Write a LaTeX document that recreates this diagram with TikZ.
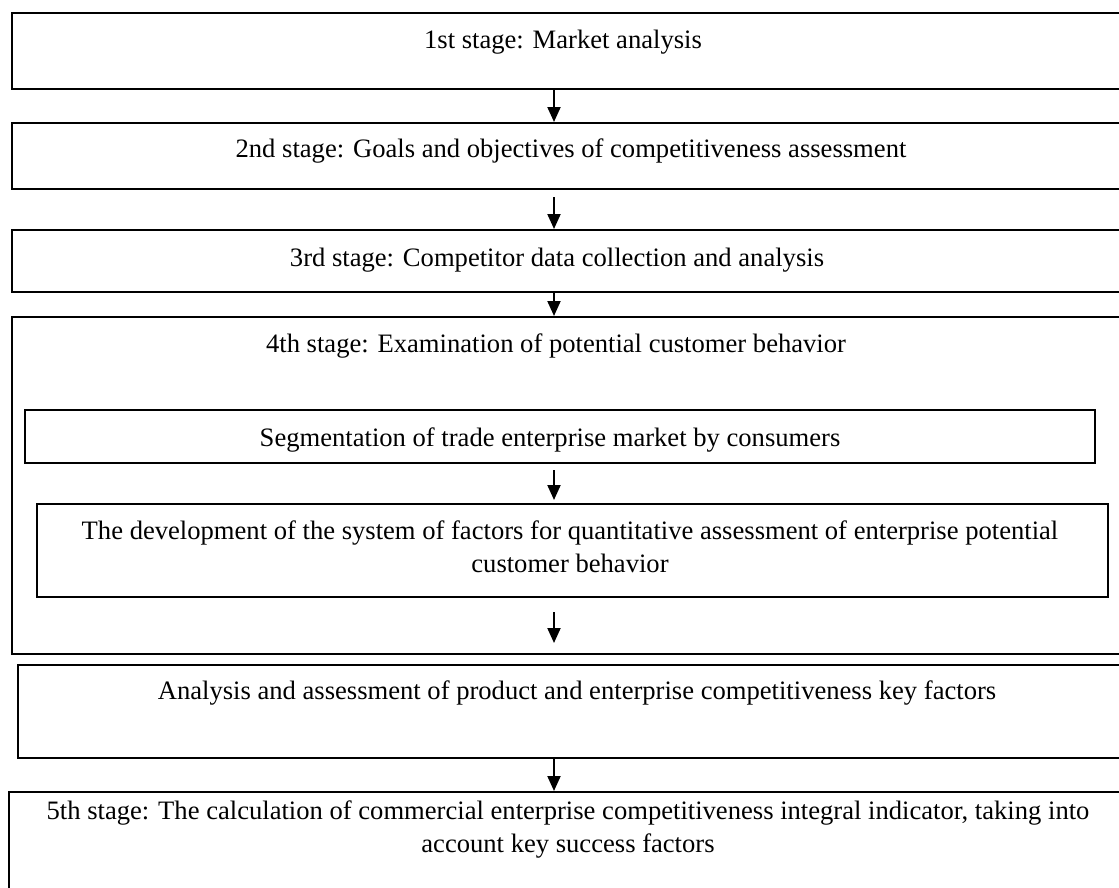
\documentclass[tikz,border=0pt]{standalone}
\usepackage{fontspec}
\setmainfont{Liberation Serif}
\usetikzlibrary{arrows.meta}
\begin{document}
\begin{tikzpicture}[x=1pt,y=-1pt,
  box/.style={draw=black,line width=2pt,rectangle,anchor=north west,inner sep=0pt},
  lbl/.style={anchor=base,inner sep=0pt,align=center,font=\fontsize{26.6}{33}\selectfont},
  arr/.style={line width=2pt,-{Triangle[width=13pt,length=15pt]}}]
\useasboundingbox (0,0) rectangle (1119,887);
% boxes
\node[box,minimum width=1120pt,minimum height=76pt] (b1) at (11,12) {};
\node[box,minimum width=1120pt,minimum height=66pt] (b2) at (11,122) {};
\node[box,minimum width=1120pt,minimum height=62pt] (b3) at (11,229) {};
\node[box,minimum width=1120pt,minimum height=337pt] (b4) at (11,316) {};
\node[box,minimum width=1070pt,minimum height=53pt] (seg) at (24,409) {};
\node[box,minimum width=1071pt,minimum height=93pt] (dev) at (36,503) {};
\node[box,minimum width=1120pt,minimum height=93pt] (ana) at (17,664) {};
\node[box,minimum width=1130pt,minimum height=120pt] (b5) at (8,791) {};
% texts
\node[lbl] (t1) at (563,48) {1st stage: Market analysis};
\node[lbl] (t2) at (571,157) {2nd stage: Goals and objectives of competitiveness assessment};
\node[lbl] (t3) at (557,266) {3rd stage: Competitor data collection and analysis};
\node[lbl] (t4) at (556,352) {4th stage: Examination of potential customer behavior};
\node[lbl] (tseg) at (550,446) {Segmentation of trade enterprise market by consumers};
\node[lbl] (tdev) at (570,572) {The development of the system of factors for quantitative assessment of enterprise potential\\customer behavior};
\node[lbl] (tana) at (577,699) {Analysis and assessment of product and enterprise competitiveness key factors};
\node[lbl] (t5) at (568,852) {5th stage: The calculation of commercial enterprise competitiveness integral indicator, taking into\\account key success factors};
% arrows
\coordinate (ax) at (554,0);
\draw[arr] (b1.south -| ax) -- (b2.north -| ax);
\draw[arr,shorten <=7pt] (b2.south -| ax) -- (b3.north -| ax);
\draw[arr] (b3.south -| ax) -- (b4.north -| ax);
\draw[arr,shorten <=6pt,shorten >=3pt] (seg.south -| ax) -- (dev.north -| ax);
\draw[arr,shorten <=14pt,shorten >=21pt] (dev.south -| ax) -- (ana.north -| ax);
\draw[arr] (ana.south -| ax) -- (b5.north -| ax);
\end{tikzpicture}
\end{document}
